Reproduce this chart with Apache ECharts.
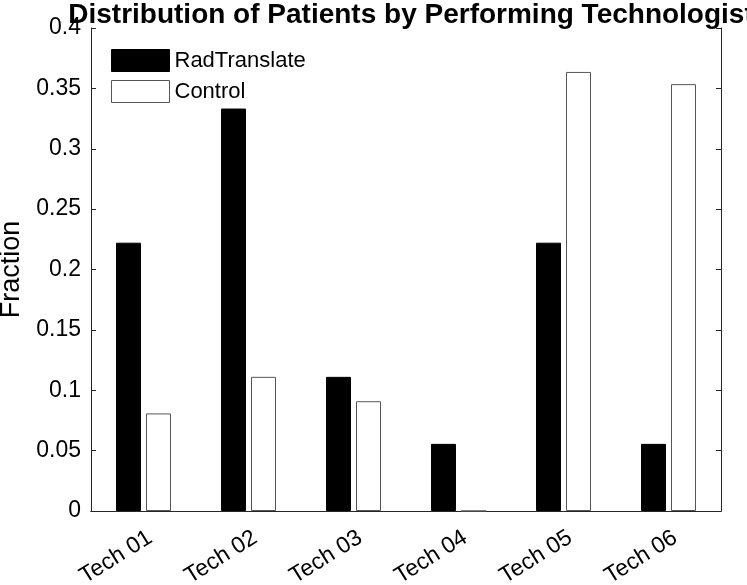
<!DOCTYPE html>
<html>
<head>
<meta charset="utf-8">
<script src="https://cdn.jsdelivr.net/npm/echarts@6/dist/echarts.min.js"></script>
<style>
html,body{margin:0;padding:0;background:#fff;}
#chart{width:747px;height:585px;}
</style>
</head>
<body>
<div id="chart"></div>
<script>
var categories = ['Tech 01','Tech 02','Tech 03','Tech 04','Tech 05','Tech 06'];
var radTranslate = [0.2222, 0.3333, 0.1111, 0.0556, 0.2222, 0.0556];
var control = [0.0808, 0.1111, 0.0909, 0, 0.3636, 0.3535];
var yTicks = [0, 0.05, 0.1, 0.15, 0.2, 0.25, 0.3, 0.35, 0.4];

var FONT = '"Liberation Sans", Arial, Helvetica, sans-serif';
var AX = '#262626';
var chart = echarts.init(document.getElementById('chart'), null, {renderer:'canvas'});
chart.setOption({
  animation:false,
  backgroundColor:'#fff',
  title:{
    text:'Distribution of Patients by Performing Technologist',
    left:406, textAlign:'center', top:-4,
    textStyle:{fontFamily:FONT, fontWeight:'bold', fontSize:28, color:'#000'}
  },
  legend:{
    left:106, top:44, orient:'vertical', itemWidth:58, itemHeight:22, itemGap:8,
    icon:'rect',
    textStyle:{fontFamily:FONT, fontSize:22, color:'#000'},
    data:[
      {name:'RadTranslate', itemStyle:{color:'#000', borderColor:'#000', borderWidth:1}},
      {name:'Control', itemStyle:{color:'#fff', borderColor:'#555', borderWidth:1}}
    ]
  },
  grid:{left:91, right:26, top:28, bottom:74, containLabel:false, outerBoundsMode:'none'},
  xAxis:[{
    type:'category', data:categories, position:'bottom',
    axisLine:{lineStyle:{color:AX, width:1}},
    axisTick:{inside:true, alignWithLabel:true, length:5, lineStyle:{color:AX}},
    axisLabel:{rotate:32, fontFamily:FONT, fontSize:23, color:'#000', margin:29, interval:0, padding:[0,-8,0,0]}
  },{
    type:'category', data:categories, position:'top',
    axisLine:{lineStyle:{color:AX, width:1}},
    axisTick:{inside:true, alignWithLabel:true, length:5, lineStyle:{color:AX}},
    axisLabel:{show:false}
  }],
  yAxis:[{
    type:'value', min:0, max:0.4, interval:0.05, position:'left',
    name:'Fraction', nameLocation:'middle', nameGap:63,
    nameTextStyle:{fontFamily:FONT, fontSize:27, color:'#000'},
    axisLine:{show:true, lineStyle:{color:AX, width:1}},
    axisTick:{show:true, inside:true, length:5, lineStyle:{color:AX}},
    splitLine:{show:false},
    axisLabel:{fontFamily:FONT, fontSize:23, color:'#000', margin:10,
      formatter:function(v){ var i = yTicks.indexOf(Math.round(v*100)/100); return i>=0 ? String(yTicks[i]) : ''; }}
  },{
    type:'value', min:0, max:0.4, interval:0.05, position:'right',
    axisLine:{show:true, lineStyle:{color:AX, width:1}},
    axisTick:{show:true, inside:true, length:5, lineStyle:{color:AX}},
    splitLine:{show:false},
    axisLabel:{show:false}
  }],
  series:[{
    name:'RadTranslate', type:'bar', data:radTranslate, barWidth:25, barGap:'20%',
    itemStyle:{color:'#000', borderColor:'#000', borderWidth:1}
  },{
    name:'Control', type:'bar', data:control, barWidth:25,
    itemStyle:{color:'#fff', borderColor:'#555', borderWidth:1}
  }]
});
</script>
</body>
</html>
